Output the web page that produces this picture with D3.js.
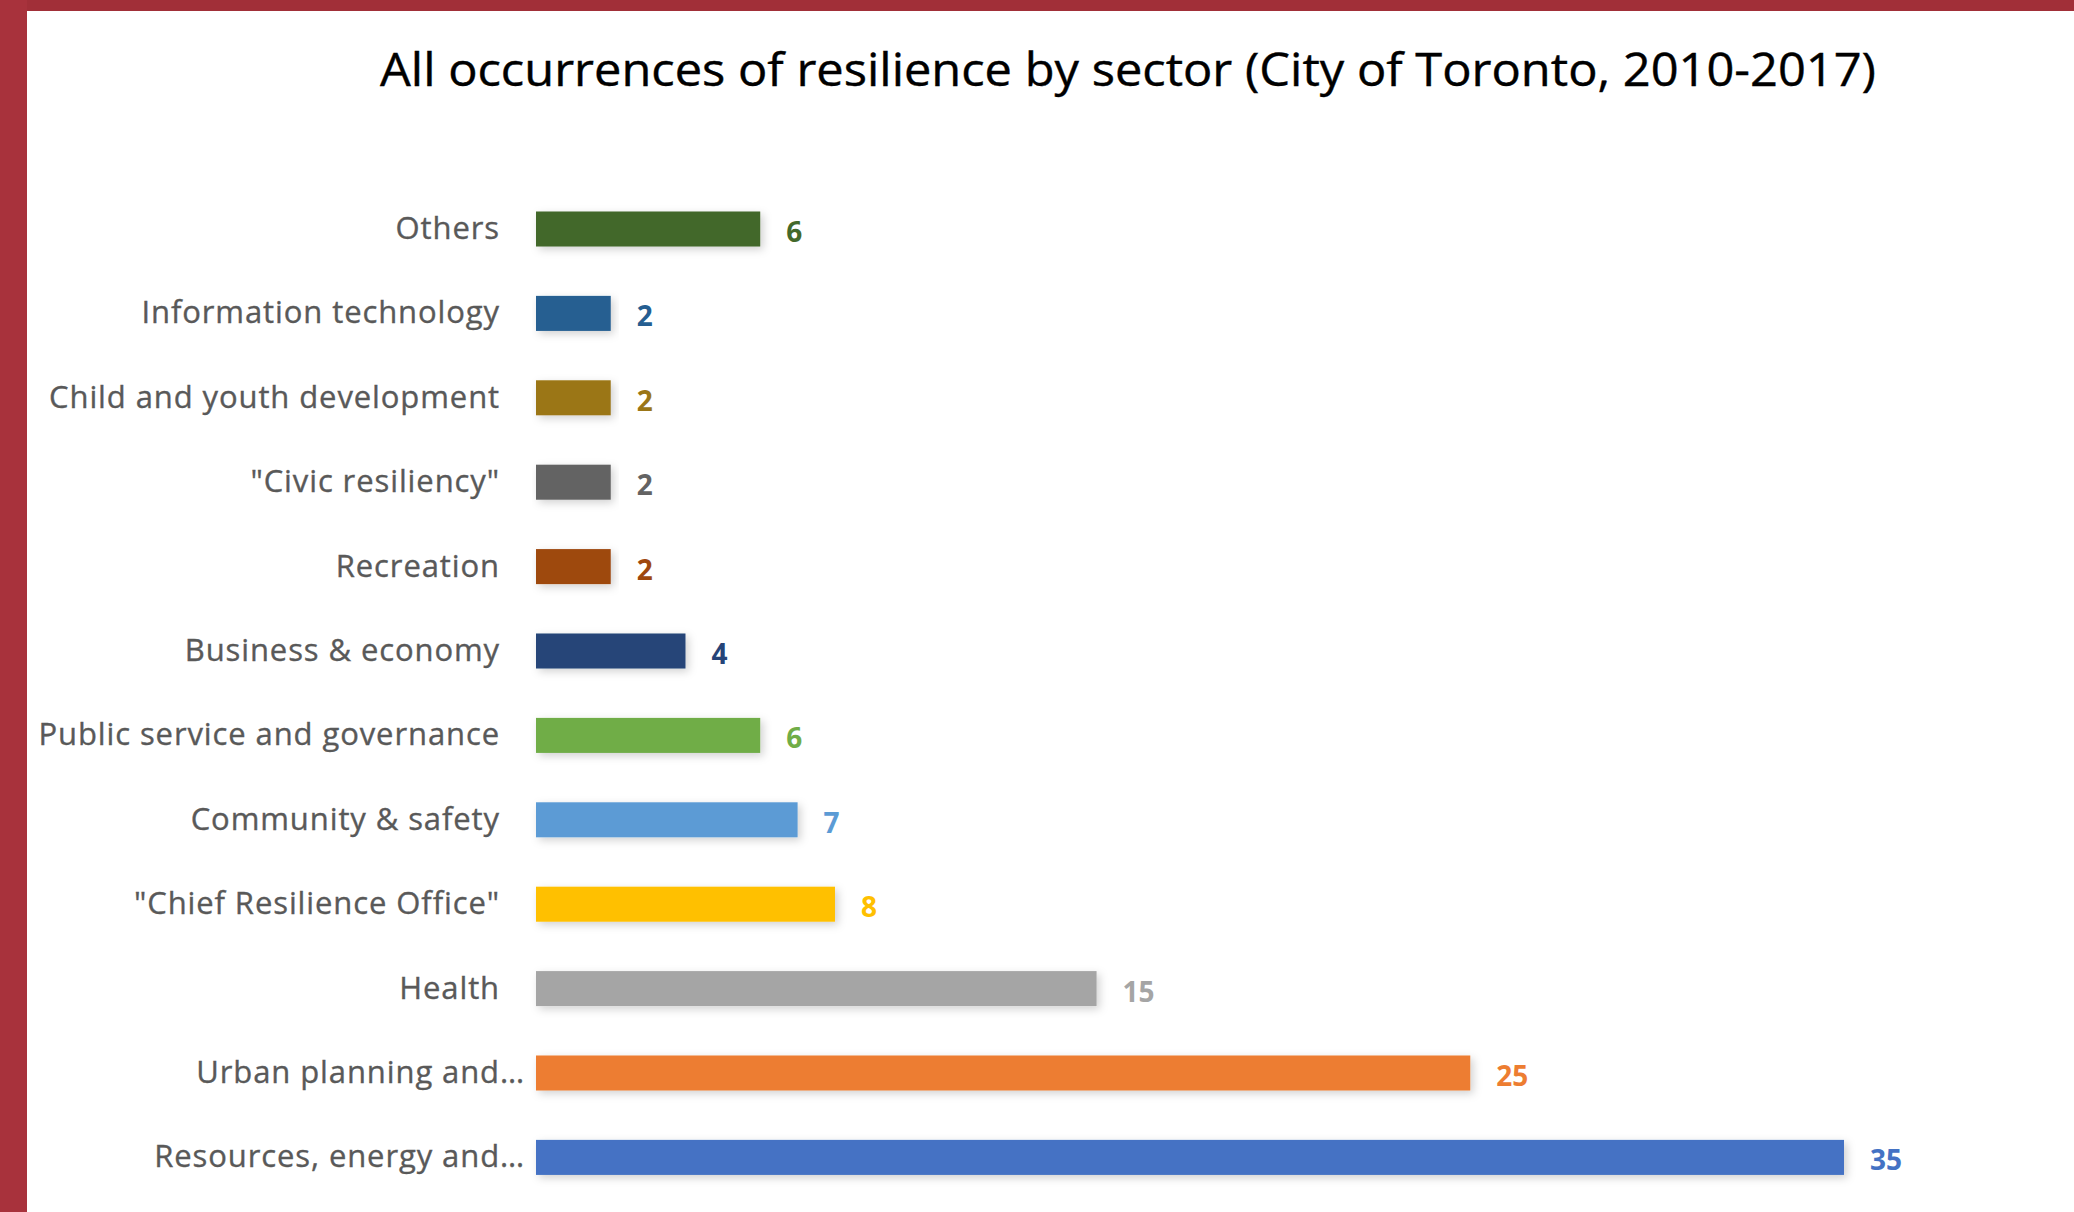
<!DOCTYPE html>
<html>
<head>
<meta charset="utf-8">
<title>All occurrences of resilience by sector</title>
<script src="https://cdn.jsdelivr.net/npm/d3@7"></script>
<style>
  html, body { margin: 0; padding: 0; background: #fff; }
  svg { display: block; }
</style>
</head>
<body>
<div id="chart"></div>
<script>
// data, top to bottom as in the chart
var categories = [
  "Others",
  "Information technology",
  "Child and youth development",
  "\"Civic resiliency\"",
  "Recreation",
  "Business & economy",
  "Public service and governance",
  "Community & safety",
  "\"Chief Resilience Office\"",
  "Health",
  "Urban planning and...",
  "Resources, energy and..."
];
var values = [6, 2, 2, 2, 2, 4, 6, 7, 8, 15, 25, 35];
var colors = ["#43682B", "#255E91", "#9B7617", "#636363", "#9E480E", "#264478",
              "#70AD47", "#5B9BD5", "#FFC000", "#A5A5A5", "#ED7D31", "#4472C4"];
var title = "All occurrences of resilience by sector (City of Toronto, 2010-2017)";

var width = 2074;
var height = 1212;

var svg = d3.select("#chart")
  .append("svg")
  .attr("width", width)
  .attr("height", height);

// drop shadow like the excel bars
var defs = svg.append("defs");
var f = defs.append("filter")
  .attr("id", "shadow")
  .attr("x", "-5%").attr("y", "-40%")
  .attr("width", "115%").attr("height", "200%");
f.append("feDropShadow")
  .attr("dx", 3).attr("dy", 3)
  .attr("stdDeviation", 4)
  .attr("flood-color", "#000")
  .attr("flood-opacity", 0.18);

// red frame (top + left)
svg.append("rect")
  .attr("x", 0).attr("y", 0)
  .attr("width", width).attr("height", 11)
  .attr("fill", "#A12F38");
svg.append("rect")
  .attr("x", 0).attr("y", 0)
  .attr("width", 27).attr("height", height)
  .attr("fill", "#A8323C");

// title
svg.append("text")
  .attr("x", 380)
  .attr("y", 86)
  .attr("textLength", 1496)
  .attr("lengthAdjust", "spacingAndGlyphs")
  .style("font-family", "'Open Sans', sans-serif")
  .style("font-size", "45px")
  .attr("fill", "#000")
  .attr("stroke", "#000")
  .attr("stroke-width", 0.4)
  .text(title);

// scales
var x = d3.scaleLinear()
  .domain([0, d3.max(values)])
  .range([536, 1844]);

var y = d3.scaleBand()
  .domain(categories)
  .range([186.8, 1199.6])
  .paddingInner(0.585)
  .paddingOuter(0.2925);

var rows = categories.map(function (c, i) {
  return { name: c, value: values[i], color: colors[i] };
});

// bars
svg.selectAll("rect.bar")
  .data(rows)
  .enter()
  .append("rect")
  .attr("class", "bar")
  .attr("x", x(0))
  .attr("y", function (d) { return y(d.name); })
  .attr("width", function (d) { return x(d.value) - x(0); })
  .attr("height", y.bandwidth())
  .attr("fill", function (d) { return d.color; })
  .attr("filter", "url(#shadow)");

// value labels
svg.selectAll("text.val")
  .data(rows)
  .enter()
  .append("text")
  .attr("class", "val")
  .attr("x", function (d) { return x(d.value) + 26; })
  .attr("y", function (d) { return y(d.name) + y.bandwidth() / 2 + 13; })
  .style("font-family", "'Open Sans', sans-serif")
  .style("font-size", "28px")
  .style("font-weight", "bold")
  .attr("fill", function (d) { return d.color; })
  .text(function (d) { return d.value; });

// category labels; the truncated ones keep their "..." past the edge
var lab = svg.selectAll("g.lab")
  .data(rows)
  .enter()
  .append("g")
  .attr("class", "lab")
  .style("font-family", "'Open Sans', sans-serif")
  .style("font-size", "31px")
  .style("letter-spacing", "0.9px")
  .attr("fill", "#595959")
  .attr("stroke", "#595959")
  .attr("stroke-width", 0.35);

lab.append("text")
  .attr("x", 500)
  .attr("y", function (d) { return y(d.name) + y.bandwidth() / 2 + 10; })
  .attr("text-anchor", "end")
  .text(function (d) { return d.name.replace("...", ""); });

lab.filter(function (d) { return d.name.indexOf("...") > -1; })
  .append("text")
  .attr("x", 500)
  .attr("y", function (d) { return y(d.name) + y.bandwidth() / 2 + 10; })
  .text("…");
</script>
</body>
</html>
